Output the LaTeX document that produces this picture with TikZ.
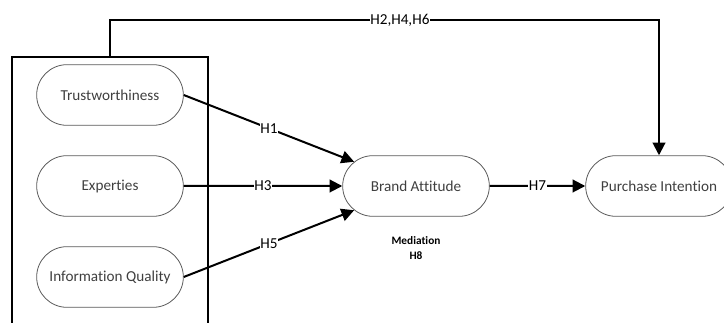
\documentclass[tikz,border=0pt]{standalone}
\usepackage{fontspec}
\setmainfont{Carlito}[Ligatures=NoCommon]
\usetikzlibrary{shapes.misc,arrows.meta}
\definecolor{boxline}{HTML}{595959}
\definecolor{boxtext}{HTML}{3F3F3F}
\begin{document}
\begin{tikzpicture}[x=0.75pt,y=-0.75pt,
    construct/.style={rounded rectangle,draw=boxline,line width=0.6pt,text=boxtext,
      minimum width=114pt,minimum height=45.5pt,inner sep=2pt,font=\fontsize{11.4}{13}\selectfont},
    path/.style={line width=1.5pt,-{Triangle[length=9.5pt,width=9.5pt]}},
    hyp/.style={fill=white,inner sep=0.5pt,font=\fontsize{11.4}{13}\selectfont}]
    \clip (0,0) rectangle (724,323);

    \node[construct] (trust) at (110,95) {Trustworthiness};
    \node[construct] (expert) at (110,186) {Experties};
    \node[construct] (infoq) at (110,277) {Information Quality};
    \node[construct] (brandatt) at (416,186) {Brand Attitude};
    \node[construct] (purint) at (659,186) {Purchase Intention};

    % frame round the three sources
    \draw[line width=1.1pt] (12,330) -- (12,57) -- (208,57) -- (208,330);
    \coordinate (boxtop) at (110,57);
    \coordinate (bend) at (110,20);

    \draw[path] (trust.east) -- node[hyp] {H1} (brandatt);
    \draw[path] (expert) -- node[hyp] {H3} (brandatt);
    \draw[path] (infoq.east) -- node[hyp] {H5} (brandatt);
    \draw[path] (brandatt) -- node[hyp] {H7} (purint);
    \draw[path] (boxtop) -- (bend) -| node[hyp,pos=0.264] {H2,H4,H6} (purint.north);

    \node[align=center,font=\fontsize{8.5}{11.25}\selectfont\bfseries] (medi) at (416,248) {Mediation\\H8};
\end{tikzpicture}
\end{document}
